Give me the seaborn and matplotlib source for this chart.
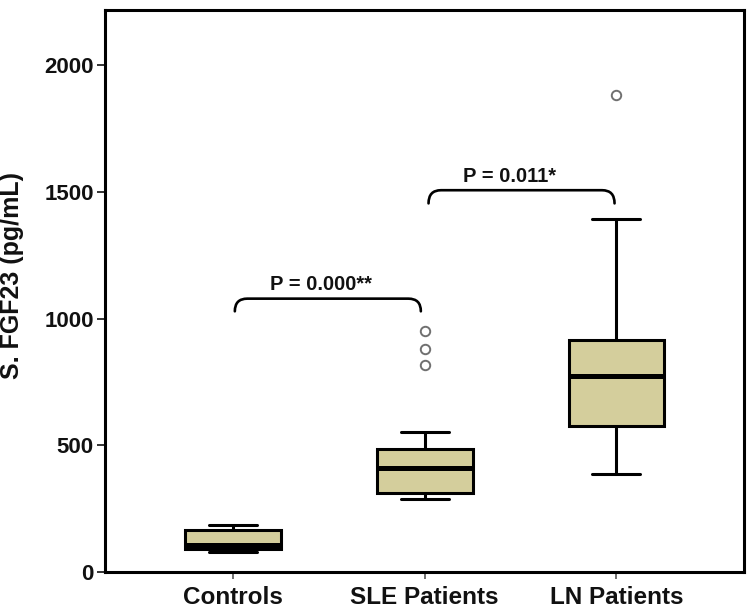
import matplotlib
matplotlib.use("Agg")
import matplotlib.pyplot as plt
from matplotlib.path import Path
from matplotlib.patches import PathPatch
import numpy as np
import pandas as pd
import seaborn as sns

# ---- data ----
categories = ["Controls", "SLE Patients", "LN Patients"]
controls = [80, 92, 106, 167, 186]
sle = [289, 295, 300, 305, 311, 340, 370, 395, 411, 430, 455, 470, 486, 552, 819, 881, 950]
ln = [385, 480, 578, 690, 774, 850, 914, 1395, 1883]
y_ticks = [0, 500, 1000, 1500, 2000]
y_label = "S. FGF23 (pg/mL)"
p_labels = ["P = 0.000**", "P = 0.011*"]

df = pd.DataFrame({
    "group": ["Controls"] * len(controls) + ["SLE Patients"] * len(sle) + ["LN Patients"] * len(ln),
    "value": controls + sle + ln,
})

sns.set_theme(style="white")
plt.rcParams["font.family"] = ["Liberation Sans", "DejaVu Sans"]

fig = plt.figure(figsize=(7.5, 6.14), dpi=100)
ax = fig.add_axes([0.14, 0.0684, 0.852, 0.916])

box_color = "#D4CE9C"
sns.boxplot(
    data=df, x="group", y="value", order=categories, ax=ax,
    color=box_color, saturation=1, width=0.5, linecolor="black", linewidth=2.2,
    medianprops=dict(color="black", linewidth=3.6),
    whiskerprops=dict(color="black", linewidth=2.2),
    capprops=dict(color="black", linewidth=2.2),
    flierprops=dict(marker="o", markerfacecolor="white", markeredgecolor="#707070",
                    markersize=6.8, markeredgewidth=1.4),
)

ax.set_xlim(-0.667, 2.665)
ax.set_ylim(0, 2220)
ax.set_yticks(y_ticks)
ax.set_yticklabels([str(t) for t in y_ticks], fontsize=16, fontweight="bold", color="#111111")
ax.set_xticks(range(len(categories)))
ax.set_xticklabels(categories, fontsize=17.5, fontweight="bold", color="#111111")
ax.set_xlabel("")
ax.set_ylabel(y_label, fontsize=18, fontweight="bold", color="#111111", va="center")
ax.yaxis.set_label_coords(-0.145, 0.528)

ax.tick_params(axis="y", direction="out", length=6, width=1.4, color="#333333", left=True, pad=2)
ax.tick_params(axis="x", direction="out", length=5, width=1.2, color="#555555", bottom=True, pad=5)
for s in ax.spines.values():
    s.set_visible(True)
    s.set_color("black")
    s.set_linewidth(2.2)

# ---- significance brackets ----
brackets = [
    # x0, x1, y_top, y_bottom, text_x, text_y
    (0.01, 0.98, 1079, 1029, 0.46, 1115),
    (1.02, 1.99, 1507, 1455, 1.44, 1540),
]
for (x0, x1, yt, yb, tx, ty), lab in zip(brackets, p_labels):
    dx = 0.065
    verts = [(x0, yb), (x0, yt), (x0 + dx, yt),
             (x1 - dx, yt),
             (x1, yt), (x1, yb)]
    codes = [Path.MOVETO, Path.CURVE3, Path.CURVE3,
             Path.LINETO,
             Path.CURVE3, Path.CURVE3]
    ax.add_patch(PathPatch(Path(verts, codes), facecolor="none", edgecolor="black",
                           linewidth=1.9, capstyle="round"))
    ax.text(tx, ty, lab, ha="center", va="baseline", fontsize=14.5,
            fontweight="bold", color="#111111")

fig.savefig("out.png", dpi=100)
